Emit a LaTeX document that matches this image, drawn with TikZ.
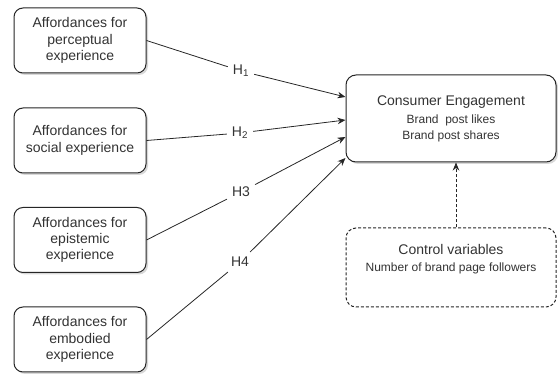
\documentclass[tikz,border=0pt]{standalone}
\usepackage{fontspec}
\setmainfont{Liberation Sans}
\usetikzlibrary{arrows.meta,shadows}
\definecolor{txtgray}{HTML}{333333}
\tikzset{
  affordbox/.style={draw=black!85, rounded corners=9pt, line width=1pt, fill=white, text=txtgray,
    align=center, minimum width=132pt, minimum height=65pt, font=\fontsize{14}{16.3}\selectfont,
    drop shadow={shadow xshift=2pt, shadow yshift=-2pt, fill=black!30}},
  hlabel/.style={text=txtgray, font=\fontsize{14}{16}\selectfont, inner sep=5pt},
  arr/.style={draw=black!85, -{Stealth[length=8pt,width=6.5pt]}, line width=0.8pt},
  seg/.style={draw=black!85, line width=0.8pt},
  dashline/.style={dash pattern=on 3pt off 2pt},
}
\begin{document}
\begin{tikzpicture}[x=1pt,y=-1pt]
  \useasboundingbox (0,0) rectangle (558,374);
  % left side
  \node[affordbox] (b1) at (80,40.5) {Affordances for\\perceptual\\experience};
  \node[affordbox] (b2) at (80,140.5) {Affordances for\\social experience};
  \node[affordbox] (b3) at (80,240) {Affordances for\\epistemic\\experience};
  \node[affordbox] (b4) at (80,339.5) {Affordances for\\embodied\\experience};
  % right side
  \node[affordbox, minimum width=210pt, minimum height=87pt, rounded corners=10pt,
    font=\fontsize{12}{16}\selectfont] (ce) at (451,118.5)
    {{\fontsize{14}{18}\selectfont Consumer Engagement}\\[2pt]Brand\ \ post likes\\Brand post shares};
  \node[draw=black!85, dashline, rounded corners=10pt, line width=1pt, fill=white,
    minimum width=210pt, minimum height=79pt] (ctrl) at (451,267.5) {};
  \node[text=txtgray, align=center, font=\fontsize{12}{17}\selectfont] (ctrltxt) at (451,259.5)
    {{\fontsize{14}{17}\selectfont Control variables}\\Number of brand page followers};
  % hypotheses
  \node[hlabel] (h1) at (241,71) {H\textsubscript{1}};
  \node[hlabel] (h2) at (240,133) {H\textsubscript{2}};
  \node[hlabel] (h3) at (241,192) {H3};
  \node[hlabel] (h4) at (240,262) {H4};
  \draw[seg] (b1.east) -- (h1);
  \draw[arr] (h1) -- ([yshift=21.5pt]ce.west);
  \draw[seg] (b2.east) -- (h2);
  \draw[arr] (h2) -- ([yshift=-1.5pt]ce.west);
  \draw[seg] (b3.east) -- (h3);
  \draw[arr] (h3) -- ([yshift=-18.5pt]ce.west);
  \draw[seg] (b4.east) -- (h4);
  \draw[arr] (h4) -- ([yshift=-39.5pt]ce.west);
  \draw[arr, dashline] ([xshift=5pt]ctrl.north) -- ([xshift=5pt]ce.south);
\end{tikzpicture}
\end{document}
